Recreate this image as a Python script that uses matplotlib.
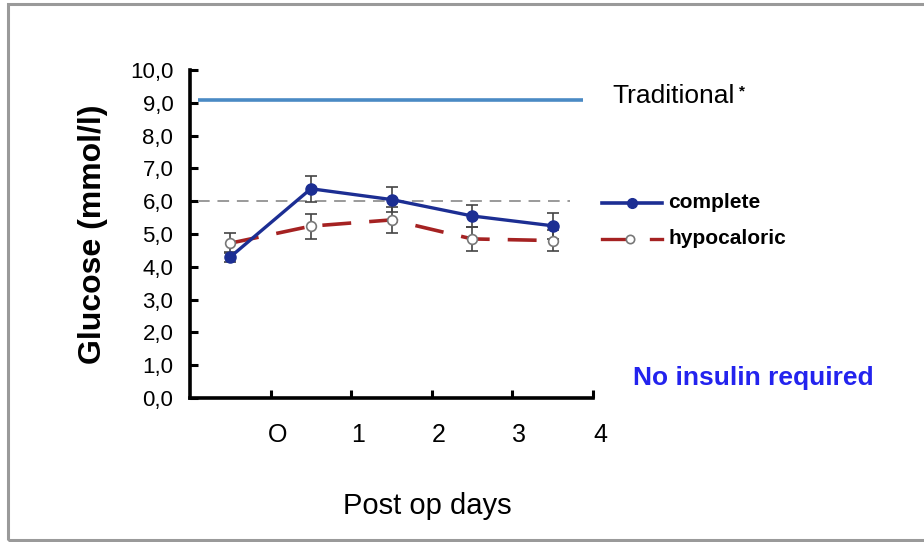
import matplotlib
matplotlib.use("Agg")
import matplotlib.pyplot as plt
import matplotlib.transforms as mtransforms
from matplotlib.patches import Rectangle
from matplotlib.lines import Line2D

plt.rcParams['font.family'] = ['Liberation Sans', 'DejaVu Sans']

# ---- data ----
days_labels = ["O", "1", "2", "3", "4"]
complete = [4.3, 6.38, 6.05, 5.55, 5.25]
complete_err = [0.15, 0.4, 0.38, 0.33, 0.4]
hypocaloric = [4.72, 5.24, 5.43, 4.85, 4.8]
hypocaloric_err = [0.3, 0.38, 0.4, 0.37, 0.32]
traditional_level = 9.1
normal_level = 6.0
y_ticks = [0, 1, 2, 3, 4, 5, 6, 7, 8, 9, 10]
y_tick_labels = ["0,0", "1,0", "2,0", "3,0", "4,0", "5,0", "6,0", "7,0", "8,0", "9,0", "10,0"]

W, H = 924, 542
fig = plt.figure(figsize=(W / 100, H / 100), dpi=100)

# frame border
fig.patches.append(Rectangle((8 / W, 2 / H), 1.2, 536 / H, transform=fig.transFigure,
                             fill=False, edgecolor="#9a9a9a", linewidth=2.2))

ax = fig.add_axes([190 / W, 1 - 398 / H, 403 / W, 328 / H])
x = list(range(len(complete)))

ax.plot([-0.4, 4.38], [traditional_level] * 2, color="#4a8ac4", lw=2.6, solid_capstyle="butt")
ax.plot([-0.4, 4.22], [normal_level] * 2, color="#9a9a9a", lw=1.4, ls=(0, (6, 4)))

ax.errorbar(x, hypocaloric, yerr=hypocaloric_err, fmt="none", ecolor="#444444",
            elinewidth=1.2, capsize=4, capthick=1.2, zorder=3)
ax.errorbar(x, complete, yerr=complete_err, fmt="none", ecolor="#444444",
            elinewidth=1.2, capsize=4, capthick=1.2, zorder=3)
ax.plot(x, hypocaloric, color="#a52222", lw=2.6, ls=(0, (8, 5)), zorder=4)
ax.plot(x, hypocaloric, ls="none", marker="o", ms=7, mfc="white", mec="#777777",
        mew=1.2, zorder=5)
ax.plot(x, complete, color="#1c2e93", lw=2.4, marker="o", ms=8, mfc="#1c2e93",
        mec="#1c2e93", zorder=6)

ax.set_xlim(-0.5, 4.5)
ax.set_ylim(0, 10)
ax.set_yticks(y_ticks)
ax.set_yticklabels(y_tick_labels, fontsize=16)
ax.set_xticks([i + 0.5 for i in range(len(days_labels))])
ax.set_xticklabels(days_labels, fontsize=18)
ax.tick_params(axis="both", direction="in", length=6, width=2.2, colors="black")
ax.tick_params(axis="y", pad=12)
ax.tick_params(axis="x", pad=18)
offset = mtransforms.ScaledTranslation(7 / 100, 0, fig.dpi_scale_trans)
for lbl in ax.get_xticklabels():
    lbl.set_transform(lbl.get_transform() + offset)
for s in ["top", "right"]:
    ax.spines[s].set_visible(False)
for s in ["left", "bottom"]:
    ax.spines[s].set_linewidth(2.6)

ax.set_ylabel("Glucose (mmol/l)", fontsize=23, fontweight="bold", labelpad=16)
fig.text(427 / W, 1 - 506 / H, "Post op days", fontsize=21, ha="center", va="center")

fig.text(612 / W, 1 - 96 / H, "Traditional", fontsize=19, ha="left", va="center")
fig.text(739 / W, 1 - 91 / H, "*", fontsize=11, fontweight="bold", ha="left", va="center")

# legend (manual, Excel-like)
fig.lines.append(Line2D([602 / W, 662 / W], [1 - 203 / H] * 2, transform=fig.transFigure,
                        color="#1c2e93", lw=2.6))
fig.lines.append(Line2D([632 / W], [1 - 203 / H], transform=fig.transFigure, ls="none",
                        marker="o", ms=7, mfc="#1c2e93", mec="#1c2e93"))
fig.text(668 / W, 1 - 203 / H, "complete", fontsize=15, fontweight="bold", ha="left", va="center")
fig.lines.append(Line2D([602 / W, 626 / W], [1 - 239 / H] * 2, transform=fig.transFigure,
                        color="#a52222", lw=2.4))
fig.lines.append(Line2D([651 / W, 662 / W], [1 - 239 / H] * 2, transform=fig.transFigure,
                        color="#a52222", lw=2.4))
fig.lines.append(Line2D([630 / W], [1 - 239 / H], transform=fig.transFigure, ls="none",
                        marker="o", ms=6, mfc="white", mec="#777777", mew=1.2))
fig.text(668 / W, 1 - 239 / H, "hypocaloric", fontsize=15, fontweight="bold", ha="left", va="center")

fig.text(633 / W, 1 - 378 / H, "No insulin required", fontsize=19, fontweight="bold",
         color="#2323ee", ha="left", va="center")

fig.savefig("out.png", dpi=100)
